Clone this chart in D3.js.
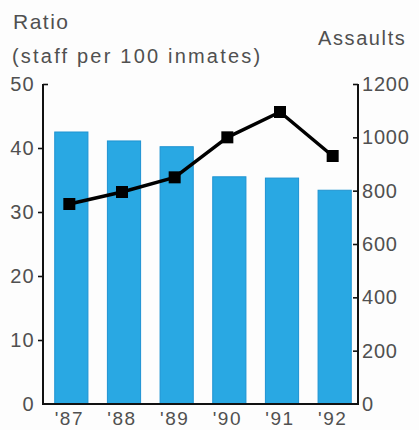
<!DOCTYPE html>
<html>
<head>
<meta charset="utf-8">
<script src="https://cdn.jsdelivr.net/npm/d3@7/dist/d3.min.js"></script>
<style>
  html, body { margin: 0; padding: 0; background: #fdfdfd; }
  svg { display: block; }
  text { font-family: "Liberation Sans", Arial, Helvetica, sans-serif; fill: #505050; }
</style>
</head>
<body>
<svg id="chart" width="419" height="430"></svg>
<script>
// Staffing ratio (bars, left axis) and assaults (line, right axis), 1987-1992
const years = ["'87", "'88", "'89", "'90", "'91", "'92"];
const ratioValues = [42.5, 41.1, 40.2, 35.5, 35.3, 33.4];
const assaultValues = [750, 795, 850, 1000, 1095, 930];
const ratioTicks = [0, 10, 20, 30, 40, 50];
const assaultTicks = [0, 200, 400, 600, 800, 1000, 1200];

const svg = d3.select("#chart");

const plotLeft = 43, plotRight = 358, plotTop = 84, plotBottom = 404;

const x = d3.scaleBand()
  .domain(years)
  .range([45, 361])
  .paddingInner(0.37)
  .paddingOuter(0.185);

const yRatio = d3.scaleLinear().domain([0, 50]).range([plotBottom, plotTop]);
const yAssault = d3.scaleLinear().domain([0, 1200]).range([plotBottom, plotTop]);

// Bars
svg.append("g")
  .selectAll("rect")
  .data(ratioValues)
  .join("rect")
  .attr("x", (d, i) => x(years[i]))
  .attr("y", d => yRatio(d))
  .attr("width", x.bandwidth())
  .attr("height", d => yRatio(0) - yRatio(d))
  .attr("fill", "#29a8e3")
  .attr("stroke", "#1e93d2")
  .attr("stroke-width", 1);

// Left axis
const leftAxis = svg.append("g")
  .attr("transform", `translate(${plotLeft},0)`)
  .call(d3.axisLeft(yRatio).tickValues(ratioTicks).tickSize(5).tickPadding(3).tickFormat(d3.format("d")));
leftAxis.select(".domain").remove();
leftAxis.selectAll(".tick line").attr("stroke", "#111").attr("stroke-width", 1.6);
leftAxis.selectAll(".tick").filter(d => d === 50).select("line").attr("x2", 5);
leftAxis.selectAll(".tick").filter(d => d === 0).select("line").remove();
leftAxis.selectAll(".tick text")
  .style("font-size", "20px").style("letter-spacing", "1.3px")
  .attr("fill", "#505050");

// Right axis
const rightAxis = svg.append("g")
  .attr("transform", `translate(${plotRight},0)`)
  .call(d3.axisRight(yAssault).tickValues(assaultTicks).tickSize(0).tickPadding(4).tickFormat(d3.format("d")));
rightAxis.select(".domain").remove();
rightAxis.selectAll(".tick line").attr("x2", -5).attr("stroke", "#111").attr("stroke-width", 1.6);
rightAxis.selectAll(".tick").filter(d => d === 0).select("line").remove();
rightAxis.selectAll(".tick text")
  .style("font-size", "20px").style("letter-spacing", "0.8px")
  .attr("fill", "#505050");

// Frame lines: both vertical axes and the baseline
svg.append("path")
  .attr("d", `M${plotLeft},${plotTop}V${plotBottom}H${plotRight}V${plotTop}`)
  .attr("fill", "none")
  .attr("stroke", "#111")
  .attr("stroke-width", 2);

// Year labels
svg.append("g")
  .selectAll("text")
  .data(years)
  .join("text")
  .attr("x", d => x(d) + x.bandwidth() / 2 - 2)
  .attr("y", 425)
  .attr("text-anchor", "middle")
  .style("font-size", "19px")
  .style("letter-spacing", "1.5px")
  .text(d => d);

// Assaults line with square markers
const line = d3.line()
  .x((d, i) => x(years[i]) + x.bandwidth() / 2 - 2)
  .y(d => yAssault(d));

svg.append("path")
  .datum(assaultValues)
  .attr("d", line)
  .attr("fill", "none")
  .attr("stroke", "#000")
  .attr("stroke-width", 3.5)
  .attr("stroke-linejoin", "round");

const m = 12;
svg.append("g")
  .selectAll("rect")
  .data(assaultValues)
  .join("rect")
  .attr("x", (d, i) => x(years[i]) + x.bandwidth() / 2 - 2 - m / 2)
  .attr("y", d => yAssault(d) - m / 2)
  .attr("width", m)
  .attr("height", m)
  .attr("fill", "#000");

// Axis titles
svg.append("text").attr("x", 13).attr("y", 29)
  .style("font-size", "21px").style("letter-spacing", "1.5px").text("Ratio");
svg.append("text").attr("x", 12).attr("y", 63)
  .style("font-size", "20px").style("letter-spacing", "2.2px").text("(staff per 100 inmates)");
svg.append("text").attr("x", 318).attr("y", 45)
  .style("font-size", "20px").style("letter-spacing", "1.6px").text("Assaults");
</script>
</body>
</html>
